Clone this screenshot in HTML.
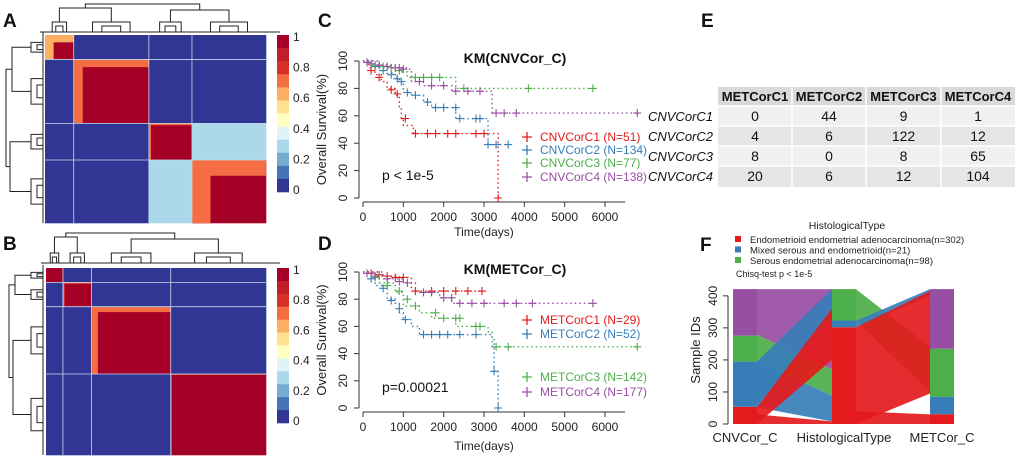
<!DOCTYPE html>
<html><head><meta charset="utf-8">
<style>
html,body{margin:0;padding:0;background:#fff;}
svg{display:block;font-family:"Liberation Sans",Arial,sans-serif;}
</style></head>
<body>
<svg id="fig" width="1020" height="460" viewBox="0 0 1020 460" xmlns="http://www.w3.org/2000/svg">
<g id="gA"></g>
<g id="gB"></g>
<g id="gC"></g>
<g id="gD"></g>
<g id="gE"></g>
<g id="gF"></g>
</svg>
<script>
// ---------- data ----------
const heatColors = ['#313695','#4575b4','#74add1','#abd9e9','#e0f3f8','#ffffbf','#fee090','#fdae61','#f46d43','#d73027','#c11f27','#a50026'];
const aClusterSizes = [0.13,0.34,0.195,0.335];
const aEdgeFrac = [0.3,0.12,0.05,0.25];
const aEdgeVal = [0.6,0.75,0.75,0.75];
const aCross = [[1,0,0,0],[0,1,0,0],[0,0,1,0.3],[0,0,0.3,1]];
const bClusterSizes = [0.077,0.13,0.36,0.433];
const bEdgeFrac = [0,0.05,0.08,0.01];
const bEdgeVal = [0.75,0.75,0.75,0.75];
const bCross = [[1,0,0,0],[0,1,0,0],[0,0,1,0],[0,0,0,1]];
const cbTicks = ['1','0.8','0.6','0.4','0.2','0'];

const kmColors = ['#e41a1c','#377eb8','#4daf4a','#984ea3'];
const cLabels = ['CNVCorC1 (N=51)','CNVCorC2 (N=134)','CNVCorC3 (N=77)','CNVCorC4 (N=138)'];
const cTimes = [[0,150,300,450,600,800,900,950,1000,1250,3350],[0,200,400,600,800,900,1000,1200,1500,1700,2300,3100],[0,300,700,900,1100,2300],[0,400,800,1100,1200,1500,2200,3200]];
const cSurv = [[100,95,90,85,80,75,65,58,53,47,0],[100,97,95,91,88,85,77,75,70,66,58,39],[100,97,95,92,88,80],[100,97,95,94,85,82,78,62]];
const cEnd = [3350,3600,5700,6800];
const cCensT = [[200,400,700,850,1050,1300,1600,1800,2100,2300,2800,3000,3350],[300,500,700,850,950,1100,1300,1600,1800,2000,2300,2400,2800,2900,3100,3300,3600],[100,300,500,700,900,1300,1500,1700,1900,2500,4100,5700],[100,200,400,600,800,900,1000,1400,1700,2000,2300,2600,2900,3300,3500,3800,6800]];
const cCensS = [[93,88,79,76,58,47,47,47,47,47,47,47,0],[96,93,90,87,85,77,75,70,66,66,66,58,58,58,39,39,39],[99,97,96,95,93,88,88,88,88,80,80,80],[99,98,97,96,95,95,94,85,82,82,78,78,78,62,62,62,62]];
const dLabels = ['METCorC1 (N=29)','METCorC2 (N=52)','METCorC3 (N=142)','METCorC4 (N=177)'];
const dTimes = [[0,300,900,1200],[0,300,600,800,900,1000,1200,1400,3200,3250,3350],[0,400,800,1000,1400,1700,2300,3100,3200],[0,500,1000,1300,1900,2200]];
const dSurv = [[100,97,96,86],[100,90,80,77,70,65,60,54,52,27,0],[100,92,85,75,70,66,60,56,45],[100,95,92,85,81,77]];
const dEnd = [2950,3350,6800,5700];
const dCensT = [[200,400,600,800,1000,1300,1700,2000,2300,2600,2950],[200,500,700,900,1050,1500,1700,1900,2100,2400,2800,3250,3350],[300,600,900,1100,1300,1800,2000,2300,2400,2800,2900,3300,3600,6800],[100,300,600,900,1100,1500,1700,2000,2200,2400,2700,3000,3500,3800,4200,5700]];
const dCensS = [[99,98,97,96,96,86,86,86,86,86,86],[95,88,79,73,65,54,54,54,54,54,54,27,0],[96,90,86,80,75,70,66,66,66,60,60,45,45,45],[99,97,95,93,92,85,85,81,81,77,77,77,77,77,77,77]];

const tableCols = ['METCorC1','METCorC2','METCorC3','METCorC4'];
const tableRows = ['CNVCorC1','CNVCorC2','CNVCorC3','CNVCorC4'];
const tableVals = [[0,44,9,1],[4,6,122,12],[8,0,8,65],[20,6,12,104]];

const cnvCounts = [51,134,77,138];
const histCounts = [302,21,98];
const metCounts = [29,52,142,177];
const histColors = ['#e41a1c','#377eb8','#4daf4a'];
const histLabels = ['Endometrioid endometrial adenocarcinoma(n=302)','Mixed serous and endometrioid(n=21)','Serous endometrial adenocarcinoma(n=98)'];
const leftFlows = [[278,421,170,421,'#984ea3'],[197,278,88,170,'#4daf4a'],[52,197,8,88,'#377eb8'],[60,195,322,421,'#377eb8'],[0,52,200,360,'#e41a1c'],[0,30,0,8,'#e41a1c']];
const rightFlows = [[322,421,100,240,'#4daf4a'],[302,322,400,421,'#377eb8'],[0,302,95,415,'#e41a1c'],[0,40,0,30,'#e41a1c']];

// ---------- helpers ----------
const NS='http://www.w3.org/2000/svg';
function mk(parent,tag,attrs,text){const e=document.createElementNS(NS,tag);for(const k in attrs)e.setAttribute(k,attrs[k]);if(text!==undefined)e.textContent=text;parent.appendChild(e);return e;}
function colorFor(v){return heatColors[Math.min(heatColors.length-1,Math.round(v*(heatColors.length-1)))];}

function heatmap(g,x0,y0,w,h,sizes,edgeF,edgeV,cross){
  const xs=[x0],ys=[y0];
  sizes.forEach((s,i)=>{xs.push(xs[i]+s*w);ys.push(ys[i]+s*h);});
  for(let i=0;i<sizes.length;i++)for(let j=0;j<sizes.length;j++){
    const r=mk(g,'rect',{x:xs[j],y:ys[i],width:xs[j+1]-xs[j]+0.3,height:ys[i+1]-ys[i]+0.3,fill:colorFor(i===j?1:cross[i][j])});
    
    
    if(i===j&&edgeF[i]>0){
      const ew=(xs[i+1]-xs[i])*edgeF[i],eh=(ys[i+1]-ys[i])*edgeF[i];
      mk(g,'rect',{x:xs[i],y:ys[i],width:ew,height:ys[i+1]-ys[i],fill:colorFor(edgeV[i])});
      mk(g,'rect',{x:xs[i],y:ys[i],width:xs[i+1]-xs[i],height:eh,fill:colorFor(edgeV[i])});
    }
  }
  for(let k=1;k<sizes.length;k++){
    mk(g,'line',{x1:xs[k],y1:y0,x2:xs[k],y2:y0+h,stroke:'#c6dbef','stroke-width':0.8});
    mk(g,'line',{x1:x0,y1:ys[k],x2:x0+w,y2:ys[k],stroke:'#c6dbef','stroke-width':0.8});
  }
  return {xs,ys};
}
function colorbar(g,x,y0,y1){
  const n=heatColors.length,hh=(y1-y0)/n;
  for(let i=0;i<n;i++){mk(g,'rect',{x:x,y:y0+i*hh,width:12,height:hh+0.3,fill:heatColors[n-1-i]});}
  cbTicks.forEach((t,i)=>{const lt=mk(g,'text',{x:x+16,y:y0+2+i*(y1-y0-4)/5+4,'font-size':12,fill:'#222'},t);});
}
function dendroTop(g,xs,yBase,yRoot){
  const c=[];for(let i=0;i<xs.length-1;i++)c.push((xs[i]+xs[i+1])/2);
  const p='stroke:#222;stroke-width:1;fill:none';
  c.forEach((cx,i)=>{const w=(xs[i+1]-xs[i])*0.25;
    mk(g,'path',{d:`M${cx-w},${yBase} V${yBase-10} H${cx+w} V${yBase} M${cx-w/2},${yBase} V${yBase-6} H${cx+w/2} V${yBase} M${cx},${yBase-10} V${yBase-16}`,style:p});});
  mk(g,'path',{d:`M${c[0]},${yBase-16} V${yRoot+4} H${c[1]} V${yBase-16} M${c[2]},${yBase-16} V${yRoot+6} H${c[3]} V${yBase-16} M${(c[0]+c[1])/2},${yRoot+4} V${yRoot} H${(c[2]+c[3])/2} V${yRoot+6}`,style:p});
  mk(g,'line',{x1:xs[0]-5,y1:yBase,x2:xs[xs.length-1]+14,y2:yBase,stroke:'#222','stroke-width':1});
}
function dendroLeft(g,ys,xBase,xRoot){
  const c=[];for(let i=0;i<ys.length-1;i++)c.push((ys[i]+ys[i+1])/2);
  const p='stroke:#222;stroke-width:1;fill:none';
  c.forEach((cy,i)=>{const w=(ys[i+1]-ys[i])*0.2;
    mk(g,'path',{d:`M${xBase},${cy-w} H${xBase-12} V${cy+w} H${xBase} M${xBase},${cy-w/2} H${xBase-6} V${cy+w/2} H${xBase} M${xBase-12},${cy} H${xBase-20}`,style:p});});
  mk(g,'path',{d:`M${xBase-20},${c[0]} H${xRoot+6} V${c[1]} H${xBase-20} M${xBase-20},${c[2]} H${xRoot+4} V${c[3]} H${xBase-20} M${xRoot+6},${(c[0]+c[1])/2} H${xRoot} V${(c[2]+c[3])/2} H${xRoot+4}`,style:p});
  mk(g,'line',{x1:xBase,y1:ys[0]-3,x2:xBase,y2:ys[ys.length-1],stroke:'#222','stroke-width':1});
}
function panelLabel(g,x,y,t){const e=mk(g,'text',{x:x,y:y,'font-size':19,'font-weight':'bold',fill:'#111'},t);}

// ---------- A & B ----------
const gA=document.getElementById('gA');
panelLabel(gA,3,27,'A');
const hA=heatmap(gA,45,35,221,188,aClusterSizes,aEdgeFrac,aEdgeVal,aCross);
dendroTop(gA,hA.xs,32,4);
dendroLeft(gA,hA.ys,43,6);
colorbar(gA,277,35,192);
const gB=document.getElementById('gB');
panelLabel(gB,3,250,'B');
const hB=heatmap(gB,46,268,220,187,bClusterSizes,bEdgeFrac,bEdgeVal,bCross);
dendroTop(gB,hB.xs,263,233);
dendroLeft(gB,hB.ys,43,9);
colorbar(gB,277,268,423);

// ---------- KM ----------
function km(g,y0,y100,title,labels,times,surv,ends,censT,censS,legY,ptxt,pY,labelY,letter,letterY){
  const xs=t=>363+t*242/6000, ys=s=>y0-(y0-y100)*s/100;
  panelLabel(g,318,letterY,letter);
  mk(g,'text',{x:515,y:y100+2,'font-size':14,'font-weight':'bold','text-anchor':'middle',fill:'#111'},title);
  mk(g,'line',{x1:359,y1:ys(0),x2:359,y2:ys(100),stroke:'#333'});
  [0,20,40,60,80,100].forEach(v=>{mk(g,'line',{x1:354,y1:ys(v),x2:359,y2:ys(v),stroke:'#333'});
    const t=mk(g,'text',{x:0,y:0,'font-size':12,'text-anchor':'middle',fill:'#222',transform:`translate(347,${ys(v)}) rotate(-90)`},String(v));});
  const ax=y0+4;
  mk(g,'line',{x1:xs(0),y1:ax,x2:xs(6500),y2:ax,stroke:'#333'});
  [0,1000,2000,3000,4000,5000,6000].forEach(v=>{mk(g,'line',{x1:xs(v),y1:ax,x2:xs(v),y2:ax+5,stroke:'#333'});
    const t=mk(g,'text',{x:xs(v),y:ax+19,'font-size':12,'text-anchor':'middle',fill:'#222'},String(v));});
  mk(g,'text',{x:484,y:labelY,'font-size':12,'text-anchor':'middle',fill:'#222'},'Time(days)');
  mk(g,'text',{x:0,y:0,'font-size':13,'text-anchor':'middle',fill:'#222',transform:`translate(326,${(ys(0)+ys(100))/2}) rotate(-90)`},'Overall Survival(%)');
  times.forEach((tt,i)=>{
    let d=`M${xs(tt[0])},${ys(surv[i][0])}`;
    for(let k=1;k<tt.length;k++){d+=` H${xs(tt[k])} V${ys(surv[i][k])}`;}
    d+=` H${xs(ends[i])}`;
    const p=mk(g,'path',{d:d,fill:'none',stroke:kmColors[i],'stroke-width':1.4,'stroke-dasharray':'1.5,3'});
    
    
    censT[i].forEach((t,k)=>{const x=xs(t),y=ys(censS[i][k]);
      const m=mk(g,'path',{d:`M${x-4},${y} H${x+4} M${x},${y-4} V${y+4}`,stroke:kmColors[i],'stroke-width':1.1});
      
      });
  });
  labels.forEach((l,i)=>{const y=legY[i];
    mk(g,'path',{d:`M${522},${y-4} H${532} M527,${y-9} V${y+1}`,stroke:kmColors[i],'stroke-width':1.3});
    const t=mk(g,'text',{x:540,y:y,'font-size':12,fill:kmColors[i]},l);
    
    });
  mk(g,'text',{x:382,y:pY,'font-size':14,fill:'#111'},ptxt);
}
km(document.getElementById('gC'),198,61,'KM(CNVCor_C)',cLabels,cTimes,cSurv,cEnd,cCensT,cCensS,[141,154,167,181],'p < 1e-5',180,236,'C',27);
km(document.getElementById('gD'),408,272,'KM(METCor_C)',dLabels,dTimes,dSurv,dEnd,dCensT,dCensS,[324,338,381,396],'p=0.00021',392,450,'D',250);

// ---------- E table ----------
const gE=document.getElementById('gE');
panelLabel(gE,701,27,'E');
const colX=[718,792,866,941,1015], rowY=[87,106,126,146,166,187];
mk(gE,'rect',{x:718,y:87,width:297,height:19,fill:'#d9d9d9'});
tableCols.forEach((c,j)=>{mk(gE,'text',{x:(colX[j]+colX[j+1])/2,y:101,'font-size':13,'font-weight':'bold','text-anchor':'middle',fill:'#111'},c);});
tableRows.forEach((r,i)=>{
  mk(gE,'rect',{x:718,y:rowY[i+1],width:297,height:rowY[i+2]-rowY[i+1],fill:i%2?'#e6e6e6':'#f0f0f0'});
  mk(gE,'text',{x:713,y:rowY[i+1]+15,'font-size':13,'font-style':'italic','text-anchor':'end',fill:'#111'},r);
  tableVals[i].forEach((v,j)=>{mk(gE,'text',{x:(colX[j]+colX[j+1])/2,y:rowY[i+1]+15,'font-size':14,'text-anchor':'middle',fill:'#111'},String(v));});
});
for(let j=1;j<4;j++)mk(gE,'line',{x1:colX[j],y1:87,x2:colX[j],y2:187,stroke:'#fff','stroke-width':1.5});
for(let i=1;i<5;i++)mk(gE,'line',{x1:718,y1:rowY[i],x2:1015,y2:rowY[i],stroke:'#fff','stroke-width':1.5});

// ---------- F alluvial ----------
const gF=document.getElementById('gF');
panelLabel(gF,700,251,'F');
const fy=v=>424-v*0.3204;
const TOT=421;
function stack(x,counts,cols){const s=counts.reduce((a,b)=>a+b,0);let acc=0;
  counts.forEach((c,i)=>{const r=mk(gF,'rect',{x:x,y:fy((acc+c)*TOT/s),width:24,height:c*TOT/s*0.3204,fill:cols[i]});
    acc+=c;});}
function flows(x1,x2,arr){arr.forEach(f=>{const p=mk(gF,'path',{d:`M${x1},${fy(f[0])} L${x2},${fy(f[2])} L${x2},${fy(f[3])} L${x1},${fy(f[1])} Z`,fill:f[4],'fill-opacity':0.92});
  });}
flows(757,832,leftFlows);
flows(856,930,rightFlows);
stack(733,cnvCounts,kmColors);
stack(832,histCounts,histColors);
stack(930,metCounts,kmColors);
mk(gF,'line',{x1:728,y1:fy(0),x2:728,y2:fy(400),stroke:'#333'});
[0,100,200,300,400].forEach(v=>{mk(gF,'line',{x1:723,y1:fy(v),x2:728,y2:fy(v),stroke:'#333'});
  const t=mk(gF,'text',{x:0,y:0,'font-size':12,'text-anchor':'middle',fill:'#222',transform:`translate(717,${fy(v)}) rotate(-90)`},String(v));});
mk(gF,'text',{x:0,y:0,'font-size':13,'text-anchor':'middle',fill:'#222',transform:'translate(700,350) rotate(-90)'},'Sample IDs');
[['CNVCor_C',745],['HistologicalType',844],['METCor_C',942]].forEach(a=>{mk(gF,'text',{x:a[1],y:442,'font-size':13,'text-anchor':'middle',fill:'#222'},a[0]);});
mk(gF,'text',{x:847,y:229,'font-size':10.5,'text-anchor':'middle',fill:'#222'},'HistologicalType');
histLabels.forEach((l,i)=>{const y=240+i*10.5;
  mk(gF,'rect',{x:735,y:y-4,width:6,height:6,fill:histColors[i]});
  const t=mk(gF,'text',{x:750,y:y+3,'font-size':9.5,fill:'#222'},l);});
mk(gF,'text',{x:736,y:277,'font-size':9,fill:'#222'},'Chisq-test p < 1e-5');
</script>
</body></html>
